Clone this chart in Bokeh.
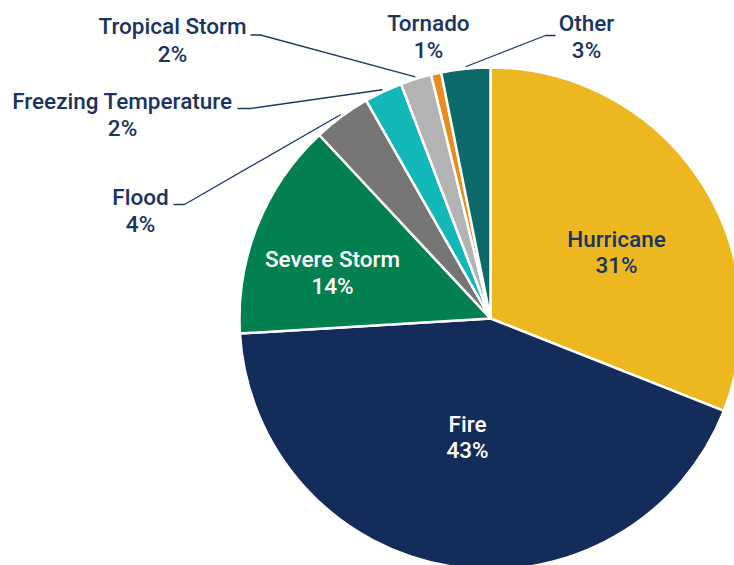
import math
from bokeh.plotting import figure
from bokeh.models import Range1d, ColumnDataSource
from bokeh.core.properties import value
from bokeh.embed import file_html
from bokeh.resources import INLINE

# ---- data (clockwise from 12 o'clock) ----
categories = ["Hurricane", "Fire", "Severe Storm", "Flood", "Freezing Temperature",
              "Tropical Storm", "Tornado", "Other"]
shares = [31.0, 43.05, 14.0, 3.7, 2.45, 2.0, 0.65, 3.15]
pct_labels = ["31%", "43%", "14%", "4%", "2%", "2%", "1%", "3%"]

# ---- styles ----
colors = ["#EDB81F", "#132C5A", "#02804F", "#767676", "#12B8B8",
          "#B3B3B3", "#EE8A1D", "#0C6B6A"]
navy_text = "#1B3461"
W, H = 734, 565
CX, CY, R = 490, H - 318, 251
FONT = "'Roboto Medium', Roboto"
FS = "22.5px"
TEXT_SHIFT = 8.5  # compensate renderer baseline offset

# label layout: (x center, baseline of name in px-from-top, line gap, color)
label_layout = {
    "Hurricane": (616, 247, 26, navy_text),
    "Fire": (467, 432, 26, "white"),
    "Severe Storm": (332, 267, 27, "white"),
    "Flood": (140, 205, 27, navy_text),
    "Freezing Temperature": (122, 109, 27, navy_text),
    "Tropical Storm": (172, 34, 27.5, navy_text),
    "Tornado": (428, 30.5, 27, navy_text),
    "Other": (586, 30.5, 27, navy_text),
}
# leader line: label-side points (px from top), then goes to slice edge
leader_layout = {
    "Flood": [(173, 204), (184, 204)],
    "Freezing Temperature": [(237, 108), (250, 108)],
    "Tropical Storm": [(250, 34.5), (260, 34.5)],
    "Other": [(555, 35), (545, 35)],
}
LEAD_R = 253

total = sum(shares)
starts, ends, mids = [], [], []
cum = 0.0
for s in shares:
    c0 = cum / total
    cum += s
    c1 = cum / total
    # bokeh angles: CCW from +x; pie runs clockwise from top
    starts.append(math.pi / 2 - 2 * math.pi * c1)
    ends.append(math.pi / 2 - 2 * math.pi * c0)
    mids.append(math.pi / 2 - 2 * math.pi * (c0 + c1) / 2)

src = ColumnDataSource(dict(cat=categories, start=starts, end=ends, color=colors))

p = figure(width=W, height=H, output_backend="svg", toolbar_location=None,
           x_range=Range1d(0, W), y_range=Range1d(0, H),
           x_axis_type=None, y_axis_type=None, min_border=0)
p.grid.visible = False
p.outline_line_color = None
p.background_fill_color = "white"
p.border_fill_color = "white"

p.wedge(x=CX, y=CY, radius=R, start_angle="start", end_angle="end",
        direction="anticlock", fill_color="color", line_color="white",
        line_width=2.5, source=src)

# leader lines
for cat, pts in leader_layout.items():
    i = categories.index(cat)
    ex = CX + LEAD_R * math.cos(mids[i])
    ey = CY + LEAD_R * math.sin(mids[i])
    xs = [pt[0] for pt in pts] + [ex]
    ys = [H - pt[1] for pt in pts] + [ey]
    p.line(xs, ys, line_color="#1F3864", line_width=1.3)

# labels
for i, cat in enumerate(categories):
    x, base, gap, col = label_layout[cat]
    yb = H - base + TEXT_SHIFT
    p.text(x=[x, x], y=[yb, yb - gap], text=[cat, pct_labels[i]],
           text_align="center", text_baseline="alphabetic",
           text_font=value(FONT), text_font_size=FS, text_color=col)

open("out.html", "w").write(file_html(p, INLINE))
